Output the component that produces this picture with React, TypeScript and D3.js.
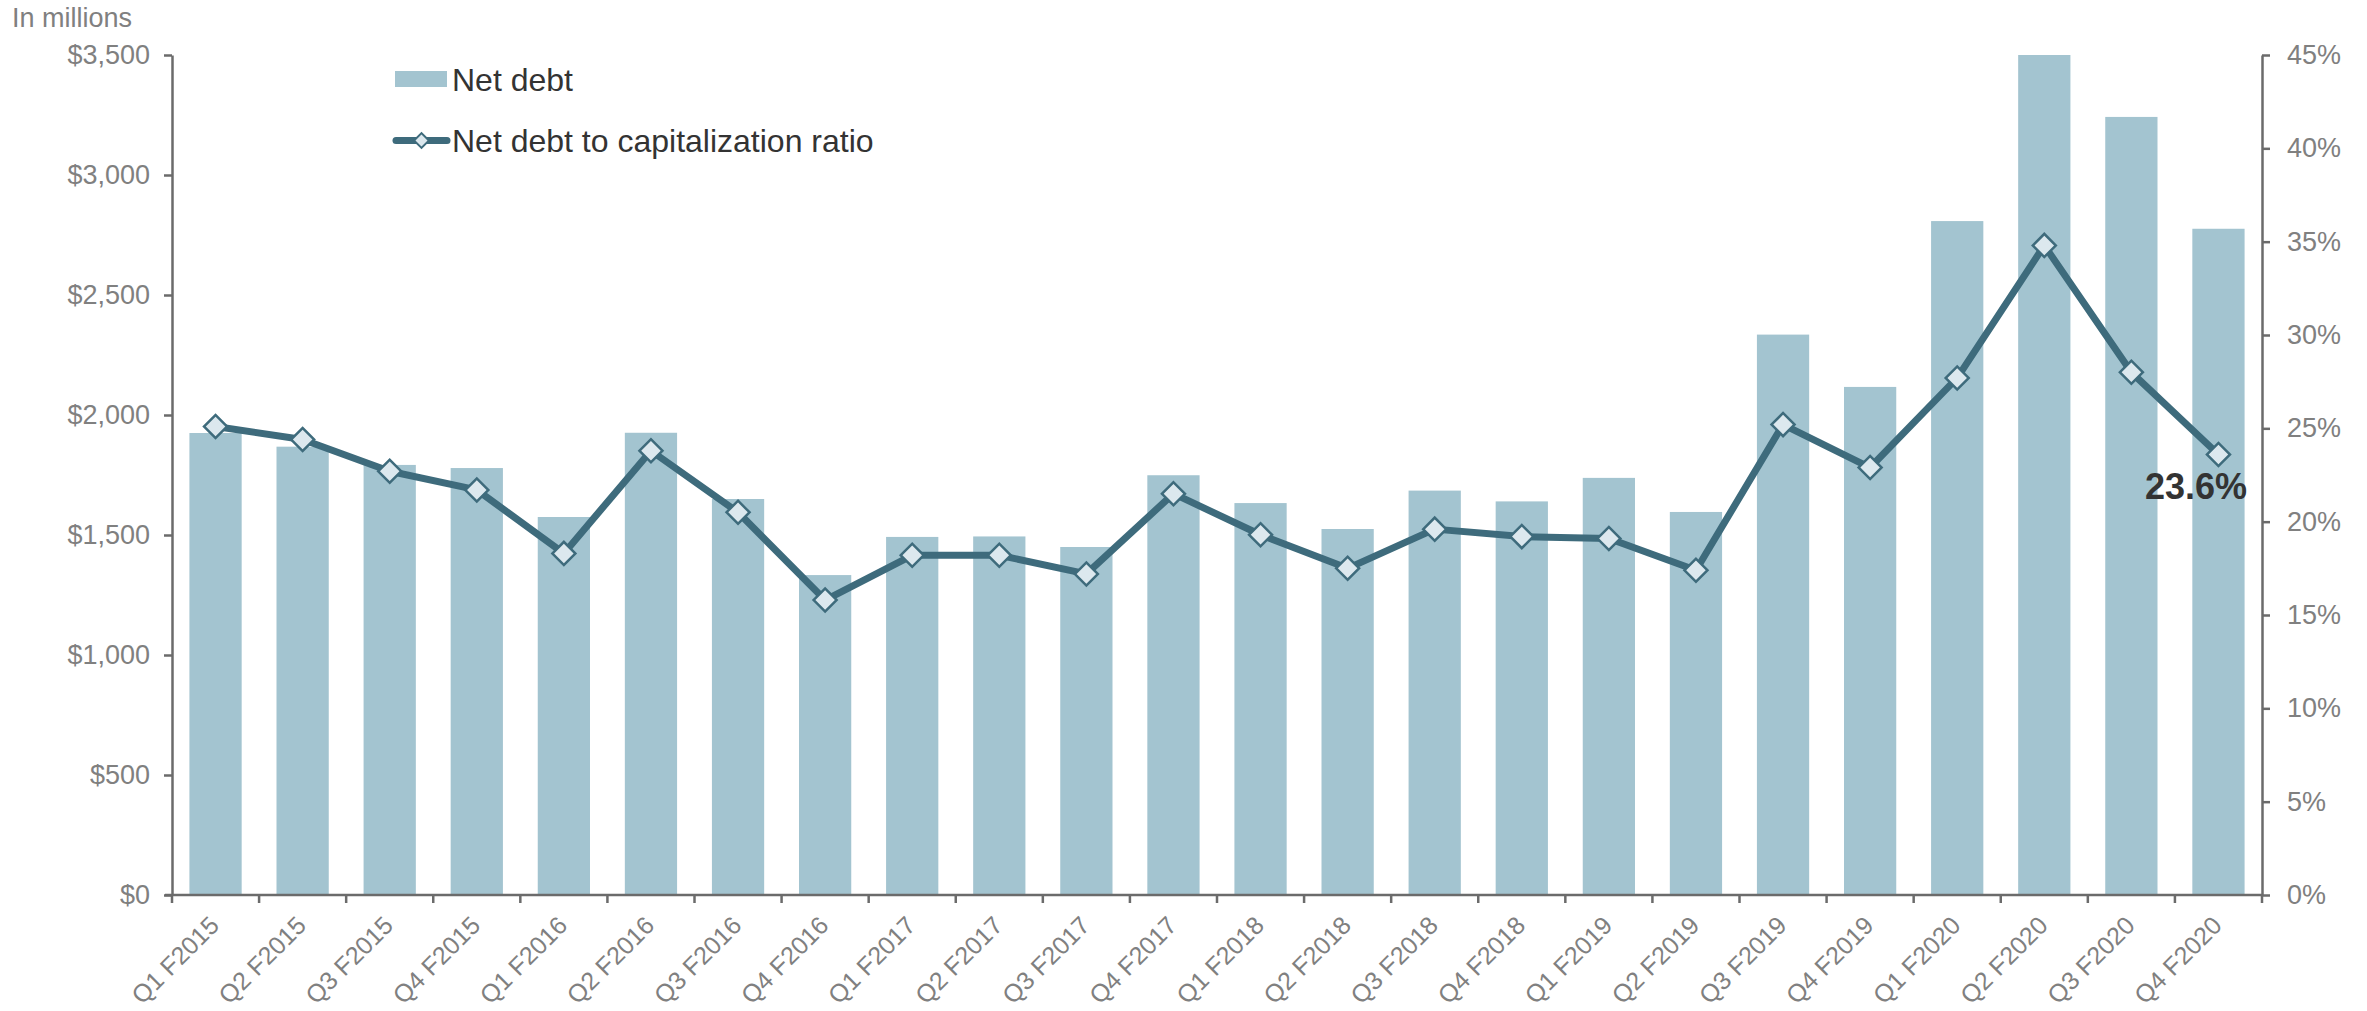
import React, { useEffect, useRef } from "react";
import * as d3 from "d3";

const quarters = [
  "Q1 F2015", "Q2 F2015", "Q3 F2015", "Q4 F2015",
  "Q1 F2016", "Q2 F2016", "Q3 F2016", "Q4 F2016",
  "Q1 F2017", "Q2 F2017", "Q3 F2017", "Q4 F2017",
  "Q1 F2018", "Q2 F2018", "Q3 F2018", "Q4 F2018",
  "Q1 F2019", "Q2 F2019", "Q3 F2019", "Q4 F2019",
  "Q1 F2020", "Q2 F2020", "Q3 F2020", "Q4 F2020",
];

// net debt, $ millions
const netDebt = [
  1925, 1868, 1792, 1779, 1575, 1926, 1650, 1333,
  1492, 1494, 1450, 1749, 1633, 1525, 1685, 1640,
  1738, 1596, 2335, 2117, 2808, 3500, 3242, 2776,
];

// net debt to capitalization ratio
const ratio = [
  0.251, 0.244, 0.227, 0.217, 0.183, 0.238, 0.205, 0.158,
  0.182, 0.182, 0.172, 0.215, 0.193, 0.175, 0.196, 0.192,
  0.191, 0.174, 0.252, 0.229, 0.277, 0.348, 0.280, 0.236,
];

const debtTicks = [0, 500, 1000, 1500, 2000, 2500, 3000, 3500];
const ratioTicks = [0, 0.05, 0.1, 0.15, 0.2, 0.25, 0.3, 0.35, 0.4, 0.45];

const W = 2367;
const H = 1011;
const left = 172;
const right = 2262;
const top = 55;
const bottom = 895;

const barColor = "#a3c4d0";
const lineColor = "#3e6b7c";
const markerFill = "#dce8ee";
const axisColor = "#6b6b6b";
const tickText = "#808080";
const font = "'Liberation Sans', Arial, sans-serif";

const App = () => {
  const ref = useRef(null);

  useEffect(() => {
    const x = d3.scaleBand()
      .domain(quarters)
      .range([left, right])
      .paddingInner(0.4)
      .paddingOuter(0.2);
    const yDebt = d3.scaleLinear().domain([0, 3500]).range([bottom, top]);
    const yRatio = d3.scaleLinear().domain([0, 0.45]).range([bottom, top]);
    const step = x.step();

    const g = d3.select(ref.current);
    g.selectAll("*").remove();

    // bars
    g.append("g")
      .selectAll("rect")
      .data(quarters)
      .join("rect")
      .attr("x", (d) => x(d))
      .attr("y", (d, i) => yDebt(netDebt[i]))
      .attr("width", x.bandwidth())
      .attr("height", (d, i) => bottom - yDebt(netDebt[i]))
      .attr("fill", barColor);

    // left axis
    const la = g.append("g")
      .attr("transform", `translate(${left},0)`)
      .call(d3.axisLeft(yDebt)
        .tickValues(debtTicks)
        .tickFormat((d) => "$" + d3.format(",")(d))
        .tickSize(8)
        .tickSizeOuter(0)
        .tickPadding(14));
    // right axis
    const ra = g.append("g")
      .attr("transform", `translate(${right},0)`)
      .call(d3.axisRight(yRatio)
        .tickValues(ratioTicks)
        .tickFormat(d3.format(".0%"))
        .tickSize(8)
        .tickSizeOuter(0)
        .tickPadding(17));
    [la, ra].forEach((a) => {
      a.selectAll("path, line").attr("stroke", axisColor).attr("stroke-width", 2.5);
      a.selectAll("text")
        .attr("fill", tickText)
        .style("font-family", font)
        .style("font-size", "27px");
    });

    // bottom axis
    const bx = g.append("g");
    bx.append("line")
      .attr("x1", left - 7).attr("x2", right)
      .attr("y1", bottom).attr("y2", bottom)
      .attr("stroke", axisColor).attr("stroke-width", 2.5);
    bx.selectAll("line.tick")
      .data(d3.range(quarters.length + 1))
      .join("line")
      .attr("class", "tick")
      .attr("x1", (i) => left + i * step).attr("x2", (i) => left + i * step)
      .attr("y1", bottom).attr("y2", bottom + 8)
      .attr("stroke", axisColor).attr("stroke-width", 2.5);
    bx.selectAll("text")
      .data(quarters)
      .join("text")
      .attr("transform", (d) => {
        const cx = x(d) + x.bandwidth() / 2 + 5;
        return `translate(${cx},${bottom + 32}) rotate(-45)`;
      })
      .attr("text-anchor", "end")
      .attr("fill", tickText)
      .style("font-family", font)
      .style("font-size", "25px")
      .text((d) => d);

    // ratio line
    const cxOf = (i) => x(quarters[i]) + x.bandwidth() / 2;
    const line = d3.line()
      .x((d, i) => cxOf(i))
      .y((d) => yRatio(d));
    g.append("path")
      .datum(ratio)
      .attr("d", line)
      .attr("fill", "none")
      .attr("stroke", lineColor)
      .attr("stroke-width", 7)
      .attr("stroke-linejoin", "round");

    const diamond = d3.symbol(d3.symbolSquare, 265);
    g.append("g")
      .selectAll("path")
      .data(ratio)
      .join("path")
      .attr("d", diamond)
      .attr("transform", (d, i) => `translate(${cxOf(i)},${yRatio(d)}) rotate(45)`)
      .attr("fill", markerFill)
      .attr("stroke", lineColor)
      .attr("stroke-width", 2.5);

    // last value label
    const last = ratio.length - 1;
    g.append("text")
      .attr("x", cxOf(last) + 28.5)
      .attr("y", yRatio(ratio[last]) + 45)
      .attr("text-anchor", "end")
      .attr("fill", "#333333")
      .style("font-family", font)
      .style("font-size", "36px")
      .style("font-weight", "bold")
      .text(d3.format(".1%")(ratio[last]));
  }, []);

  return (
    <svg
      width={W}
      height={H}
      style={{ position: "absolute", left: 0, top: 0, background: "#fff" }}
    >
      <text x={12} y={27} fill={tickText} fontFamily={font} fontSize={27}>
        In millions
      </text>
      <g ref={ref} />
      <g fontFamily={font} fontSize={32} fill="#333333">
        <rect x={395} y={71} width={52} height={16} fill={barColor} />
        <text x={452} y={91}>Net debt</text>
        <line x1={396} x2={447} y1={140.5} y2={140.5} stroke={lineColor} strokeWidth={7} strokeLinecap="round" />
        <path
          d={d3.symbol(d3.symbolSquare, 110)()}
          transform="translate(421.5,140.5) rotate(45)"
          fill={markerFill}
          stroke={lineColor}
          strokeWidth={2}
        />
        <text x={452} y={152}>Net debt to capitalization ratio</text>
      </g>
    </svg>
  );
};

export default App;
